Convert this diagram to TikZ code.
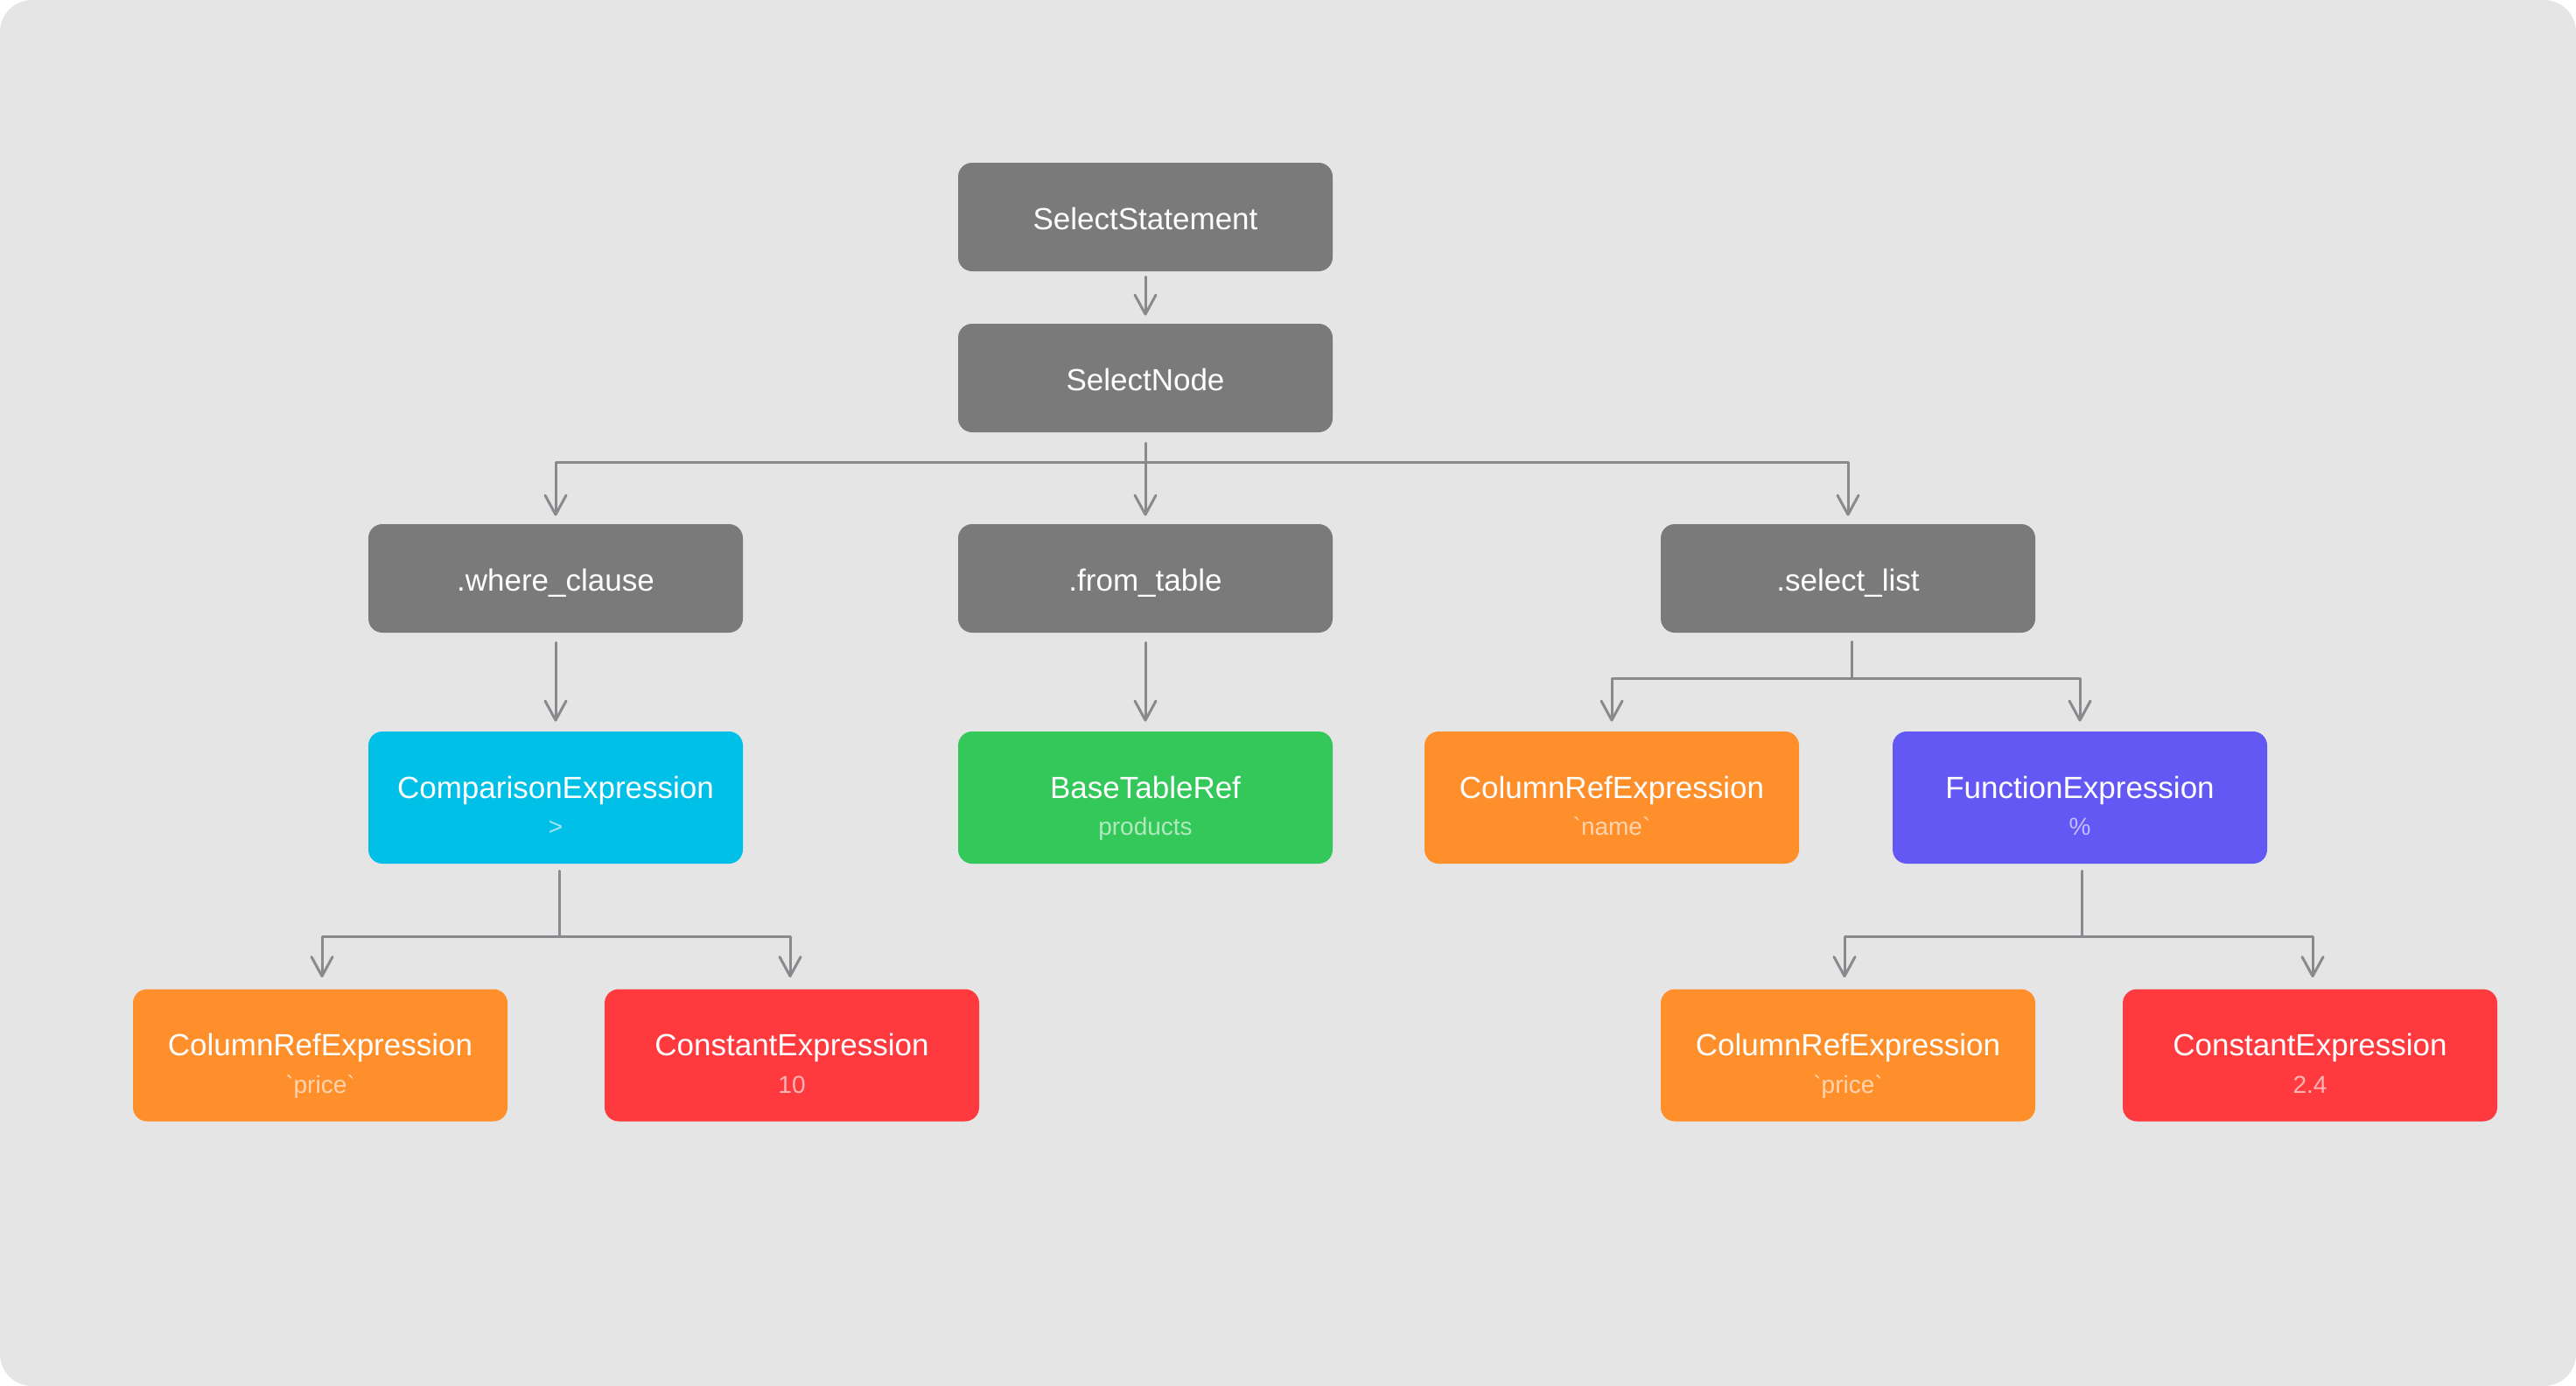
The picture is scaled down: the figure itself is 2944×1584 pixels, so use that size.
\documentclass[tikz,border=0pt]{standalone}
\usepackage{fontspec}
\newfontfamily\lsans{Liberation Sans}
\usetikzlibrary{arrows.meta,calc}
\definecolor{bg}{HTML}{E5E5E5}
\definecolor{boxgray}{HTML}{7A7A7A}
\definecolor{linegray}{HTML}{8A8A8E}
\definecolor{cyanbox}{HTML}{00C0E8}
\definecolor{greenbox}{HTML}{34C759}
\definecolor{orangebox}{HTML}{FF8F2B}
\definecolor{redbox}{HTML}{FF3A3F}
\definecolor{purplebox}{HTML}{6458F5}
\begin{document}
\begin{tikzpicture}[x=0.5pt,y=-0.5pt,
  box/.style={rounded corners=8pt, minimum width=214pt, inner sep=0pt, draw=none,
    text=white, font=\lsans\fontsize{17.5}{21}\selectfont},
  onebox/.style={box, minimum height=62pt, text height=14.6pt, text depth=0pt},
  twobox/.style={box, minimum height=75.5pt, text height=3pt, text depth=2.5pt},
  sub/.style={anchor=base, text=white, text opacity=0.62, inner sep=0pt,
    font=\lsans\fontsize{14}{17}\selectfont},
  conn/.style={draw=linegray, line width=1.5pt, line cap=round, line join=round},
  arr/.style={conn, -{Straight Barb[length=11pt,width=12pt,round]}}
]
\fill[white] (0,0) rectangle (2944,1584);
\fill[bg, rounded corners=18.5pt] (0,0) rectangle (2944,1584);
\useasboundingbox (0,0) rectangle (2944,1584);

% row 1-3
\node[onebox, fill=boxgray] (ss) at (1309,248) {SelectStatement};
\node[onebox, fill=boxgray] (sn) at (1309,432) {SelectNode};
\node[onebox, fill=boxgray] (wc) at (635,661) {.where\_clause};
\node[onebox, fill=boxgray] (ft) at (1309,661) {.from\_table};
\node[onebox, fill=boxgray] (sl) at (2112,661) {.select\_list};

% row 4
\node[twobox, fill=cyanbox] (ce) at (635,911.5) {ComparisonExpression};
\node[sub] (ces) at ($(ce.center)+(0,43)$) {>};
\node[twobox, fill=greenbox] (bt) at (1309,911.5) {BaseTableRef};
\node[sub] (bts) at ($(bt.center)+(0,43)$) {products};
\node[twobox, fill=orangebox] (cn) at (1842,911.5) {ColumnRefExpression};
\node[sub] (cns) at ($(cn.center)+(0,43)$) {`name`};
\node[twobox, fill=purplebox] (fe) at (2377,911.5) {FunctionExpression};
\node[sub] (fes) at ($(fe.center)+(0,43)$) {\%};

% row 5
\node[twobox, fill=orangebox] (cp1) at (366,1206) {ColumnRefExpression};
\node[sub] (cp1s) at ($(cp1.center)+(0,43)$) {`price`};
\node[twobox, fill=redbox] (c10) at (905,1206) {ConstantExpression};
\node[sub] (c10s) at ($(c10.center)+(0,43)$) {10};
\node[twobox, fill=orangebox] (cp2) at (2112,1206) {ColumnRefExpression};
\node[sub] (cp2s) at ($(cp2.center)+(0,43)$) {`price`};
\node[twobox, fill=redbox] (c24) at (2640,1206) {ConstantExpression};
\node[sub] (c24s) at ($(c24.center)+(0,43)$) {2.4};

% connectors
\draw[arr] ([yshift=-3pt]ss.south) -- ([yshift=4.5pt]sn.north);

\coordinate (snj) at ($(sn.south)+(0,34)$);
\draw[conn] ([yshift=-6pt]sn.south) -- (snj);
\draw[arr] (snj) -- ([yshift=4.5pt]ft.north);
\draw[arr] (snj) -| ([yshift=4.5pt]wc.north);
\draw[arr] (snj) -| ([yshift=4.5pt]sl.north);

\draw[arr] ([yshift=-5.5pt]wc.south) -- ([yshift=5.5pt]ce.north);
\draw[arr] ([yshift=-5.5pt]ft.south) -- ([yshift=5.5pt]bt.north);

\coordinate (slj) at ($(sl.south)+(4,52)$);
\draw[conn] ([xshift=2pt,yshift=-5pt]sl.south) -- (slj);
\draw[arr] (slj) -| ([yshift=5.5pt]cn.north);
\draw[arr] (slj) -| ([yshift=5.5pt]fe.north);

\coordinate (cej) at ($(ce.south)+(4,83)$);
\draw[conn] ([xshift=2pt,yshift=-4pt]ce.south) -- (cej);
\draw[arr] (cej) -| ([xshift=1pt,yshift=6.5pt]cp1.north);
\draw[arr] (cej) -| ([xshift=-1pt,yshift=6.5pt]c10.north);

\coordinate (fej) at ($(fe.south)+(2,83)$);
\draw[conn] ([xshift=1pt,yshift=-4pt]fe.south) -- (fej);
\draw[arr] (fej) -| ([xshift=-2pt,yshift=6.5pt]cp2.north);
\draw[arr] (fej) -| ([xshift=1.5pt,yshift=6.5pt]c24.north);
\end{tikzpicture}
\end{document}
